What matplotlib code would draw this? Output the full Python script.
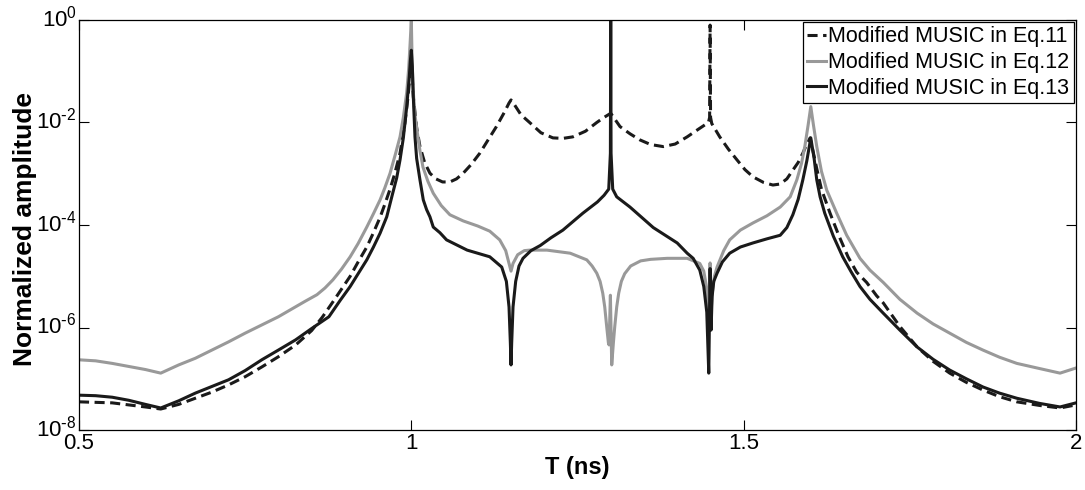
import numpy as np
import matplotlib.pyplot as plt
from matplotlib.transforms import ScaledTranslation

plt.rcParams['font.family'] = ['Liberation Sans', 'DejaVu Sans']
plt.rcParams['mathtext.default'] = 'regular'

# values, amplitude given as log10
x_eq11 = [0.500, 0.550, 0.600, 0.623, 0.650, 0.675, 0.700, 0.725, 0.750, 0.775, 0.800, 0.826,
          0.850, 0.866, 0.882, 0.895, 0.908, 0.920, 0.933, 0.943, 0.953, 0.960, 0.968, 0.975,
          0.983, 0.990, 0.995, 1.000, 1.003, 1.008, 1.013, 1.020, 1.028, 1.037, 1.047, 1.058,
          1.068, 1.078, 1.090, 1.103, 1.115, 1.128, 1.140, 1.147, 1.150, 1.155, 1.165, 1.178,
          1.195, 1.213, 1.228, 1.243, 1.262, 1.279, 1.290, 1.300, 1.307, 1.314, 1.329, 1.344,
          1.360, 1.379, 1.397, 1.415, 1.432, 1.447, 1.4488, 1.4495, 1.4502, 1.452, 1.464, 1.477,
          1.490, 1.502, 1.514, 1.530, 1.544, 1.555, 1.565, 1.574, 1.582, 1.589, 1.595, 1.600,
          1.605, 1.610, 1.617, 1.630, 1.643, 1.657, 1.670, 1.685, 1.700, 1.710, 1.735, 1.761,
          1.785, 1.810, 1.835, 1.860, 1.885, 1.911, 1.945, 1.976, 2.000]
log_eq11 = [-7.45, -7.47, -7.55, -7.59, -7.50, -7.38, -7.26, -7.12, -6.96, -6.77, -6.57, -6.34,
            -6.06, -5.80, -5.50, -5.25, -5.00, -4.72, -4.43, -4.15, -3.85, -3.60, -3.30, -3.00,
            -2.60, -2.05, -1.50, -0.80, -1.50, -2.10, -2.47, -2.78, -2.99, -3.10, -3.16, -3.16,
            -3.10, -2.99, -2.82, -2.60, -2.35, -2.08, -1.80, -1.62, -1.56, -1.65, -1.85, -2.00,
            -2.20, -2.30, -2.31, -2.28, -2.17, -2.00, -1.90, -1.82, -1.95, -2.08, -2.22, -2.34,
            -2.43, -2.47, -2.42, -2.28, -2.13, -2.00, -1.90, -0.10, -1.90, -2.02, -2.28, -2.52,
            -2.73, -2.92, -3.06, -3.17, -3.22, -3.20, -3.10, -2.93, -2.78, -2.60, -2.42, -2.30,
            -2.60, -2.90, -3.30, -3.77, -4.20, -4.62, -4.92, -5.12, -5.38, -5.52, -5.98, -6.38,
            -6.66, -6.89, -7.07, -7.22, -7.35, -7.45, -7.52, -7.57, -7.51]

x_eq12 = [0.500, 0.525, 0.550, 0.575, 0.600, 0.623, 0.650, 0.675, 0.700, 0.725, 0.750, 0.775,
          0.800, 0.820, 0.840, 0.858, 0.870, 0.882, 0.895, 0.908, 0.920, 0.933, 0.943, 0.953,
          0.960, 0.968, 0.976, 0.983, 0.988, 0.993, 0.996, 0.998, 1.000, 1.0012, 1.0025, 1.005,
          1.0085, 1.013, 1.0175, 1.025, 1.033, 1.045, 1.058, 1.078, 1.100, 1.118, 1.133, 1.142,
          1.147, 1.150, 1.153, 1.160, 1.170, 1.178, 1.204, 1.239, 1.264, 1.272, 1.279, 1.284,
          1.288, 1.291, 1.294, 1.2965, 1.2975, 1.2995, 1.3015, 1.304, 1.306, 1.309, 1.312, 1.316,
          1.321, 1.330, 1.345, 1.360, 1.385, 1.415, 1.434, 1.440, 1.444, 1.4465, 1.4485, 1.4495,
          1.4505, 1.453, 1.456, 1.460, 1.470, 1.479, 1.495, 1.514, 1.535, 1.555, 1.570, 1.580,
          1.587, 1.592, 1.597, 1.601, 1.605, 1.610, 1.617, 1.625, 1.640, 1.655, 1.675, 1.690,
          1.710, 1.735, 1.761, 1.785, 1.810, 1.835, 1.860, 1.885, 1.911, 1.945, 1.976, 2.000]
log_eq12 = [-6.63, -6.65, -6.70, -6.76, -6.82, -6.89, -6.73, -6.60, -6.44, -6.28, -6.11, -5.95,
            -5.79, -5.64, -5.49, -5.36, -5.23, -5.07, -4.86, -4.62, -4.36, -4.04, -3.78, -3.51,
            -3.28, -2.99, -2.62, -2.28, -1.90, -1.42, -0.95, -0.50, 0.00, -0.80, -1.30, -1.80,
            -2.15, -2.55, -2.87, -3.15, -3.38, -3.62, -3.80, -3.92, -4.02, -4.12, -4.29, -4.50,
            -4.75, -4.90, -4.75, -4.58, -4.50, -4.49, -4.49, -4.55, -4.68, -4.80, -4.94, -5.10,
            -5.33, -5.60, -5.99, -6.30, -6.34, -5.37, -6.73, -6.30, -5.99, -5.60, -5.33, -5.10,
            -4.95, -4.80, -4.70, -4.67, -4.65, -4.65, -4.75, -4.90, -5.20, -5.70, -6.00, -4.74,
            -5.80, -5.30, -5.00, -4.82, -4.50, -4.29, -4.10, -3.96, -3.82, -3.65, -3.45, -3.12,
            -2.80, -2.47, -2.05, -1.69, -2.05, -2.47, -2.95, -3.32, -3.77, -4.20, -4.65, -4.88,
            -5.12, -5.45, -5.72, -5.93, -6.11, -6.29, -6.44, -6.58, -6.70, -6.80, -6.89, -6.79]

x_eq13 = [0.500, 0.525, 0.550, 0.575, 0.600, 0.623, 0.650, 0.675, 0.700, 0.725, 0.750, 0.775,
          0.800, 0.826, 0.850, 0.876, 0.893, 0.908, 0.920, 0.933, 0.943, 0.953, 0.963, 0.972,
          0.978, 0.983, 0.988, 0.993, 0.997, 0.9985, 1.000, 1.0015, 1.003, 1.0055, 1.008, 1.013,
          1.018, 1.023, 1.028, 1.033, 1.043, 1.053, 1.084, 1.118, 1.136, 1.143, 1.147, 1.149,
          1.150, 1.151, 1.153, 1.157, 1.162, 1.168, 1.180, 1.194, 1.210, 1.228, 1.258, 1.280,
          1.290, 1.297, 1.2995, 1.300, 1.3005, 1.303, 1.309, 1.329, 1.364, 1.400, 1.415, 1.424,
          1.434, 1.440, 1.4445, 1.4475, 1.4495, 1.451, 1.4525, 1.455, 1.460, 1.468, 1.479, 1.495,
          1.514, 1.535, 1.555, 1.565, 1.574, 1.582, 1.589, 1.595, 1.601, 1.606, 1.610, 1.615,
          1.622, 1.635, 1.649, 1.662, 1.675, 1.690, 1.710, 1.735, 1.761, 1.785, 1.810, 1.835,
          1.860, 1.885, 1.911, 1.945, 1.976, 2.000]
log_eq13 = [-7.32, -7.33, -7.36, -7.42, -7.50, -7.57, -7.43, -7.28, -7.15, -7.02, -6.84, -6.63,
            -6.44, -6.24, -6.02, -5.79, -5.47, -5.20, -4.95, -4.68, -4.43, -4.16, -3.84, -3.38,
            -3.08, -2.73, -2.30, -1.70, -1.10, -0.80, -0.59, -0.90, -1.50, -2.28, -2.70, -3.12,
            -3.51, -3.70, -3.84, -4.04, -4.15, -4.29, -4.49, -4.62, -4.82, -5.10, -5.60, -6.30,
            -6.73, -6.30, -5.60, -5.10, -4.80, -4.65, -4.50, -4.40, -4.25, -4.10, -3.77, -3.55,
            -3.42, -3.30, -2.60, 0.00, -2.60, -3.30, -3.45, -3.65, -4.05, -4.35, -4.55, -4.65,
            -4.88, -5.20, -5.70, -6.89, -4.85, -6.05, -5.40, -5.10, -4.94, -4.72, -4.55, -4.43,
            -4.35, -4.27, -4.20, -4.05, -3.80, -3.50, -3.12, -2.75, -2.30, -2.70, -3.12, -3.45,
            -3.77, -4.22, -4.62, -4.92, -5.20, -5.45, -5.72, -6.05, -6.38, -6.62, -6.83, -7.00,
            -7.16, -7.28, -7.38, -7.48, -7.55, -7.47]

labels = ['Modified MUSIC in Eq.11', 'Modified MUSIC in Eq.12', 'Modified MUSIC in Eq.13']
y_ticks = [1e-8, 1e-6, 1e-4, 1e-2, 1]
y_ticklabels = ['10$^{\\text{-}8}$', '10$^{\\text{-}6}$', '10$^{\\text{-}4}$', '10$^{\\text{-}2}$', '10$^{0}$']

fig = plt.figure(figsize=(10.85, 4.9), dpi=100)
ax = fig.add_axes([0.0728, 0.1224, 0.9189, 0.8368])

ax.plot(x_eq11, 10.0 ** np.array(log_eq11), color='#1a1a1a', lw=2.2, dashes=(3.3, 1.8), label=labels[0])
ax.plot(x_eq12, 10.0 ** np.array(log_eq12), color='#999999', lw=2.2, label=labels[1])
ax.plot(x_eq13, 10.0 ** np.array(log_eq13), color='#1a1a1a', lw=2.2, label=labels[2])

ax.set_yscale('log')
ax.set_xlim(0.5, 2)
ax.set_ylim(1e-8, 1)
ax.set_xticks([0.5, 1, 1.5, 2])
ax.set_xticklabels(['0.5', '1', '1.5', '2'])
ax.set_yticks(y_ticks)
ax.set_yticklabels(y_ticklabels)
ax.minorticks_off()
ax.tick_params(direction='in', length=7, width=0.8, top=True, right=True, labelsize=16)
ax.tick_params(axis='x', pad=2.5)
ax.tick_params(axis='y', pad=1.5)
for s in ax.spines.values():
    s.set_linewidth(0.9)

# lift the y tick labels a little, the "10" sits on the tick in the original
shift = ScaledTranslation(0, 3 / 72, fig.dpi_scale_trans)
for lbl in ax.get_yticklabels():
    lbl.set_transform(lbl.get_transform() + shift)

ax.set_xlabel('T (ns)', fontsize=17, fontweight='bold', labelpad=1)
ax.set_ylabel('Normalized amplitude', fontsize=19, fontweight='bold')
ax.yaxis.set_label_coords(-0.042, 0.49)

leg = ax.legend(loc='upper right', fontsize=15.5, handlelength=0.9, handletextpad=0.1,
                borderpad=0.2, labelspacing=0.22, borderaxespad=0.1, fancybox=False,
                framealpha=1)
leg.get_frame().set_edgecolor('black')
leg.get_frame().set_linewidth(0.9)

fig.savefig('out.png', dpi=100)
